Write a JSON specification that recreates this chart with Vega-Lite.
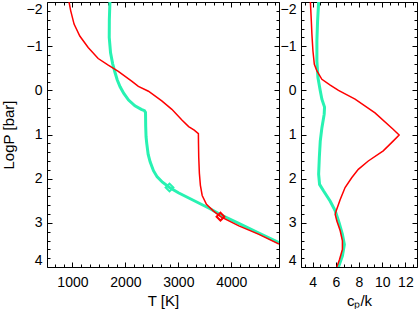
{
  "$schema": "https://vega.github.io/schema/vega-lite/v6.json",
  "padding": {"left": 0, "top": 1, "right": 1, "bottom": 0},
  "background": "white",
  "spacing": 22,
  "bounds": "flush",
  "config": {
    "view": {"stroke": "#000", "strokeWidth": 1},
    "axis": {"labelFont": "Liberation Sans", "titleFont": "Liberation Sans", "labelFontSize": 14, "titleFontSize": 15, "titleFontWeight": "normal", "labelColor": "#000", "titleColor": "#000", "domain": false, "grid": false, "tickColor": "#000", "tickWidth": 1, "minExtent": 0, "offset": 0}
  },
  "datasets": {
    "tp": [
      {"s": "b", "i": 1, "T": 1708, "P": -2.0},
      {"s": "b", "i": 2, "T": 1697, "P": -1.6},
      {"s": "b", "i": 3, "T": 1695, "P": -1.2},
      {"s": "b", "i": 4, "T": 1720, "P": -0.85},
      {"s": "b", "i": 5, "T": 1760, "P": -0.6},
      {"s": "b", "i": 6, "T": 1800, "P": -0.42},
      {"s": "b", "i": 7, "T": 1845, "P": -0.24},
      {"s": "b", "i": 8, "T": 1900, "P": -0.08},
      {"s": "b", "i": 9, "T": 1970, "P": 0.07},
      {"s": "b", "i": 10, "T": 2060, "P": 0.22},
      {"s": "b", "i": 11, "T": 2180, "P": 0.35},
      {"s": "b", "i": 12, "T": 2300, "P": 0.43},
      {"s": "b", "i": 13, "T": 2360, "P": 0.46},
      {"s": "b", "i": 14, "T": 2380, "P": 0.5},
      {"s": "b", "i": 15, "T": 2383, "P": 0.8},
      {"s": "b", "i": 16, "T": 2390, "P": 1.05},
      {"s": "b", "i": 17, "T": 2403, "P": 1.2},
      {"s": "b", "i": 18, "T": 2430, "P": 1.45},
      {"s": "b", "i": 19, "T": 2467, "P": 1.62},
      {"s": "b", "i": 20, "T": 2530, "P": 1.82},
      {"s": "b", "i": 21, "T": 2600, "P": 1.96},
      {"s": "b", "i": 22, "T": 2700, "P": 2.08},
      {"s": "b", "i": 23, "T": 2833, "P": 2.2},
      {"s": "b", "i": 24, "T": 3000, "P": 2.32},
      {"s": "b", "i": 25, "T": 3300, "P": 2.5},
      {"s": "b", "i": 26, "T": 3600, "P": 2.68},
      {"s": "b", "i": 27, "T": 3800, "P": 2.82},
      {"s": "b", "i": 28, "T": 4150, "P": 3.02},
      {"s": "b", "i": 29, "T": 4500, "P": 3.22},
      {"s": "b", "i": 30, "T": 4900, "P": 3.45},
      {"s": "r", "i": 1, "T": 936, "P": -2.0},
      {"s": "r", "i": 2, "T": 968, "P": -1.8},
      {"s": "r", "i": 3, "T": 1031, "P": -1.5},
      {"s": "r", "i": 4, "T": 1139, "P": -1.23},
      {"s": "r", "i": 5, "T": 1297, "P": -0.97},
      {"s": "r", "i": 6, "T": 1486, "P": -0.72},
      {"s": "r", "i": 7, "T": 1676, "P": -0.57},
      {"s": "r", "i": 8, "T": 1866, "P": -0.43},
      {"s": "r", "i": 9, "T": 2118, "P": -0.21},
      {"s": "r", "i": 10, "T": 2245, "P": -0.09},
      {"s": "r", "i": 11, "T": 2435, "P": 0.02},
      {"s": "r", "i": 12, "T": 2687, "P": 0.24},
      {"s": "r", "i": 13, "T": 2877, "P": 0.43},
      {"s": "r", "i": 14, "T": 3067, "P": 0.67},
      {"s": "r", "i": 15, "T": 3194, "P": 0.82},
      {"s": "r", "i": 16, "T": 3300, "P": 0.9},
      {"s": "r", "i": 17, "T": 3378, "P": 0.98},
      {"s": "r", "i": 18, "T": 3380, "P": 1.2},
      {"s": "r", "i": 19, "T": 3385, "P": 1.52},
      {"s": "r", "i": 20, "T": 3397, "P": 1.88},
      {"s": "r", "i": 21, "T": 3416, "P": 2.15},
      {"s": "r", "i": 22, "T": 3450, "P": 2.38},
      {"s": "r", "i": 23, "T": 3530, "P": 2.58},
      {"s": "r", "i": 24, "T": 3660, "P": 2.73},
      {"s": "r", "i": 25, "T": 3795, "P": 2.86},
      {"s": "r", "i": 26, "T": 4142, "P": 3.07},
      {"s": "r", "i": 27, "T": 4522, "P": 3.26},
      {"s": "r", "i": 28, "T": 4900, "P": 3.48}
    ],
    "dia": [
      {"s": "b", "T": 2833, "P": 2.2},
      {"s": "r", "T": 3795, "P": 2.86}
    ],
    "cp": [
      {"s": "b", "i": 1, "c": 4.52, "P": -2.0},
      {"s": "b", "i": 2, "c": 4.43, "P": -1.57},
      {"s": "b", "i": 3, "c": 4.37, "P": -1.12},
      {"s": "b", "i": 4, "c": 4.37, "P": -0.66},
      {"s": "b", "i": 5, "c": 4.46, "P": -0.29},
      {"s": "b", "i": 6, "c": 4.66, "P": 0.01},
      {"s": "b", "i": 7, "c": 4.8, "P": 0.2},
      {"s": "b", "i": 8, "c": 5.03, "P": 0.38},
      {"s": "b", "i": 9, "c": 5.0, "P": 0.54},
      {"s": "b", "i": 10, "c": 4.8, "P": 0.85},
      {"s": "b", "i": 11, "c": 4.66, "P": 1.15},
      {"s": "b", "i": 12, "c": 4.58, "P": 1.52},
      {"s": "b", "i": 13, "c": 4.52, "P": 1.9},
      {"s": "b", "i": 14, "c": 4.6, "P": 2.13},
      {"s": "b", "i": 15, "c": 4.95, "P": 2.28},
      {"s": "b", "i": 16, "c": 5.52, "P": 2.51},
      {"s": "b", "i": 17, "c": 5.95, "P": 2.73},
      {"s": "b", "i": 18, "c": 6.29, "P": 3.0},
      {"s": "b", "i": 19, "c": 6.57, "P": 3.26},
      {"s": "b", "i": 20, "c": 6.74, "P": 3.49},
      {"s": "b", "i": 21, "c": 6.57, "P": 3.75},
      {"s": "b", "i": 22, "c": 6.23, "P": 4.0},
      {"s": "r", "i": 1, "c": 3.81, "P": -2.0},
      {"s": "r", "i": 2, "c": 3.89, "P": -1.57},
      {"s": "r", "i": 3, "c": 3.94, "P": -1.27},
      {"s": "r", "i": 4, "c": 4.03, "P": -0.89},
      {"s": "r", "i": 5, "c": 4.15, "P": -0.59},
      {"s": "r", "i": 6, "c": 4.37, "P": -0.44},
      {"s": "r", "i": 7, "c": 4.8, "P": -0.25},
      {"s": "r", "i": 8, "c": 5.52, "P": -0.12},
      {"s": "r", "i": 9, "c": 6.23, "P": 0.0},
      {"s": "r", "i": 10, "c": 7.66, "P": 0.2},
      {"s": "r", "i": 11, "c": 9.38, "P": 0.51},
      {"s": "r", "i": 12, "c": 10.94, "P": 0.88},
      {"s": "r", "i": 13, "c": 11.46, "P": 1.01},
      {"s": "r", "i": 14, "c": 10.94, "P": 1.15},
      {"s": "r", "i": 15, "c": 10.09, "P": 1.37},
      {"s": "r", "i": 16, "c": 8.8, "P": 1.6},
      {"s": "r", "i": 17, "c": 7.94, "P": 1.79},
      {"s": "r", "i": 18, "c": 7.37, "P": 1.98},
      {"s": "r", "i": 19, "c": 6.8, "P": 2.2},
      {"s": "r", "i": 20, "c": 6.38, "P": 2.47},
      {"s": "r", "i": 21, "c": 6.03, "P": 2.73},
      {"s": "r", "i": 22, "c": 5.95, "P": 2.81},
      {"s": "r", "i": 23, "c": 6.09, "P": 2.96},
      {"s": "r", "i": 24, "c": 6.38, "P": 3.18},
      {"s": "r", "i": 25, "c": 6.57, "P": 3.41},
      {"s": "r", "i": 26, "c": 6.57, "P": 3.6},
      {"s": "r", "i": 27, "c": 6.32, "P": 3.83},
      {"s": "r", "i": 28, "c": 6.09, "P": 4.0}
    ]
  },
  "hconcat": [
    {
      "width": 232,
      "height": 265,
      "resolve": {"axis": {"x": "independent", "y": "independent"}},
      "layer": [
        {
          "data": {"name": "tp"},
          "transform": [{"filter": "datum.s === 'b'"}],
          "mark": {"type": "line", "color": "#28f2b2", "strokeWidth": 3, "clip": true},
          "encoding": {
            "x": {"field": "T", "type": "quantitative", "scale": {"domain": [520, 4900], "nice": false, "zero": false},
                  "axis": {"orient": "bottom", "values": [1000, 2000, 3000, 4000], "format": "d", "ticks": false, "labelPadding": 8, "title": "T [K]", "titlePadding": 4}},
            "y": {"field": "P", "type": "quantitative", "scale": {"domain": [-2, 4], "reverse": true, "nice": false, "zero": false},
                  "axis": {"orient": "left", "values": [-2, -1, 0, 1, 2, 3, 4], "format": "d", "ticks": false, "labelPadding": 5, "labelFlush": true, "title": "LogP [bar]", "titlePadding": 10}},
            "order": {"field": "i", "type": "quantitative"}
          }
        },
        {
          "data": {"name": "tp"},
          "transform": [{"filter": "datum.s === 'r'"}],
          "mark": {"type": "line", "color": "#ff0000", "strokeWidth": 1.5, "clip": true},
          "encoding": {
            "x": {"field": "T", "type": "quantitative", "scale": {"domain": [520, 4900], "nice": false, "zero": false},
                  "axis": {"orient": "bottom", "values": [1000, 2000, 3000, 4000], "labels": false, "tickSize": -5, "title": null}},
            "y": {"field": "P", "type": "quantitative", "scale": {"domain": [-2, 4], "reverse": true, "nice": false, "zero": false},
                  "axis": {"orient": "left", "values": [-2, -1, 0, 1, 2, 3, 4], "labels": false, "tickSize": -5, "title": null}},
            "order": {"field": "i", "type": "quantitative"}
          }
        },
        {
          "data": {"name": "dia"},
          "mark": {"type": "point", "shape": "diamond", "filled": false, "strokeWidth": 2, "size": 60, "opacity": 1, "clip": true},
          "encoding": {
            "x": {"field": "T", "type": "quantitative", "scale": {"domain": [520, 4900], "nice": false, "zero": false},
                  "axis": {"orient": "bottom", "values": [666.67, 833.33, 1166.67, 1333.33, 1500, 1666.67, 1833.33, 2166.67, 2333.33, 2500, 2666.67, 2833.33, 3166.67, 3333.33, 3500, 3666.67, 3833.33, 4166.67, 4333.33, 4500, 4666.67, 4833.33], "labels": false, "tickSize": -3, "title": null}},
            "y": {"field": "P", "type": "quantitative", "scale": {"domain": [-2, 4], "reverse": true, "nice": false, "zero": false},
                  "axis": {"orient": "left", "values": [-1.8, -1.6, -1.4, -1.2, -0.8, -0.6, -0.4, -0.2, 0.2, 0.4, 0.6, 0.8, 1.2, 1.4, 1.6, 1.8, 2.2, 2.4, 2.6, 2.8, 3.2, 3.4, 3.6, 3.8], "labels": false, "tickSize": -3, "title": null}},
            "color": {"field": "s", "type": "nominal", "scale": {"domain": ["b", "r"], "range": ["#28f2b2", "#ff0000"]}, "legend": null}
          }
        },
        {
          "data": {"name": "dia"},
          "mark": {"type": "point", "opacity": 0, "clip": true},
          "encoding": {
            "x": {"field": "T", "type": "quantitative", "scale": {"domain": [520, 4900], "nice": false, "zero": false},
                  "axis": {"orient": "top", "values": [1000, 2000, 3000, 4000], "labels": false, "tickSize": -5, "title": null}},
            "y": {"field": "P", "type": "quantitative", "scale": {"domain": [-2, 4], "reverse": true, "nice": false, "zero": false},
                  "axis": {"orient": "right", "values": [-2, -1, 0, 1, 2, 3, 4], "labels": false, "tickSize": -5, "title": null}}
          }
        },
        {
          "data": {"name": "dia"},
          "mark": {"type": "point", "opacity": 0, "clip": true},
          "encoding": {
            "x": {"field": "T", "type": "quantitative", "scale": {"domain": [520, 4900], "nice": false, "zero": false},
                  "axis": {"orient": "top", "values": [666.67, 833.33, 1166.67, 1333.33, 1500, 1666.67, 1833.33, 2166.67, 2333.33, 2500, 2666.67, 2833.33, 3166.67, 3333.33, 3500, 3666.67, 3833.33, 4166.67, 4333.33, 4500, 4666.67, 4833.33], "labels": false, "tickSize": -3, "title": null}},
            "y": {"field": "P", "type": "quantitative", "scale": {"domain": [-2, 4], "reverse": true, "nice": false, "zero": false},
                  "axis": {"orient": "right", "values": [-1.8, -1.6, -1.4, -1.2, -0.8, -0.6, -0.4, -0.2, 0.2, 0.4, 0.6, 0.8, 1.2, 1.4, 1.6, 1.8, 2.2, 2.4, 2.6, 2.8, 3.2, 3.4, 3.6, 3.8], "labels": false, "tickSize": -3, "title": null}}
          }
        }
      ]
    },
    {
      "width": 116,
      "height": 265,
      "resolve": {"axis": {"x": "independent", "y": "independent"}},
      "layer": [
        {
          "data": {"name": "cp"},
          "transform": [{"filter": "datum.s === 'b'"}],
          "mark": {"type": "line", "color": "#28f2b2", "strokeWidth": 3, "clip": true},
          "encoding": {
            "x": {"field": "c", "type": "quantitative", "scale": {"domain": [3, 13], "nice": false, "zero": false},
                  "axis": {"orient": "bottom", "values": [4, 6, 8, 10, 12], "format": "d", "ticks": false, "labelPadding": 8, "title": "cₚ/k", "titlePadding": 4}},
            "y": {"field": "P", "type": "quantitative", "scale": {"domain": [-2, 4], "reverse": true, "nice": false, "zero": false},
                  "axis": {"orient": "left", "values": [-2, -1, 0, 1, 2, 3, 4], "format": "d", "ticks": false, "labelPadding": 5, "labelFlush": true, "title": null}},
            "order": {"field": "i", "type": "quantitative"}
          }
        },
        {
          "data": {"name": "cp"},
          "transform": [{"filter": "datum.s === 'r'"}],
          "mark": {"type": "line", "color": "#ff0000", "strokeWidth": 1.5, "clip": true},
          "encoding": {
            "x": {"field": "c", "type": "quantitative", "scale": {"domain": [3, 13], "nice": false, "zero": false},
                  "axis": {"orient": "bottom", "values": [4, 6, 8, 10, 12], "labels": false, "tickSize": -5, "title": null}},
            "y": {"field": "P", "type": "quantitative", "scale": {"domain": [-2, 4], "reverse": true, "nice": false, "zero": false},
                  "axis": {"orient": "left", "values": [-2, -1, 0, 1, 2, 3, 4], "labels": false, "tickSize": -5, "title": null}},
            "order": {"field": "i", "type": "quantitative"}
          }
        },
        {
          "data": {"name": "dia"},
          "mark": {"type": "point", "opacity": 0, "clip": true},
          "encoding": {
            "x": {"value": 50},
            "y": {"field": "P", "type": "quantitative", "scale": {"domain": [-2, 4], "reverse": true, "nice": false, "zero": false},
                  "axis": {"orient": "left", "values": [-1.8, -1.6, -1.4, -1.2, -0.8, -0.6, -0.4, -0.2, 0.2, 0.4, 0.6, 0.8, 1.2, 1.4, 1.6, 1.8, 2.2, 2.4, 2.6, 2.8, 3.2, 3.4, 3.6, 3.8], "labels": false, "tickSize": -3, "title": null}}
          }
        },
        {
          "data": {"name": "cp"},
          "transform": [{"filter": "datum.i === 10"}],
          "mark": {"type": "point", "opacity": 0, "clip": true},
          "encoding": {
            "x": {"field": "c", "type": "quantitative", "scale": {"domain": [3, 13], "nice": false, "zero": false},
                  "axis": {"orient": "bottom", "values": [3.333, 4.667, 5.333, 6.667, 7.333, 8.667, 9.333, 10.667, 11.333, 12.667], "labels": false, "tickSize": -3, "title": null}},
            "y": {"field": "P", "type": "quantitative", "scale": {"domain": [-2, 4], "reverse": true, "nice": false, "zero": false},
                  "axis": {"orient": "right", "values": [-2, -1, 0, 1, 2, 3, 4], "labels": false, "tickSize": -5, "title": null}}
          }
        },
        {
          "data": {"name": "cp"},
          "transform": [{"filter": "datum.i === 10"}],
          "mark": {"type": "point", "opacity": 0, "clip": true},
          "encoding": {
            "x": {"field": "c", "type": "quantitative", "scale": {"domain": [3, 13], "nice": false, "zero": false},
                  "axis": {"orient": "top", "values": [4, 6, 8, 10, 12], "labels": false, "tickSize": -5, "title": null}},
            "y": {"field": "P", "type": "quantitative", "scale": {"domain": [-2, 4], "reverse": true, "nice": false, "zero": false},
                  "axis": {"orient": "right", "values": [-1.8, -1.6, -1.4, -1.2, -0.8, -0.6, -0.4, -0.2, 0.2, 0.4, 0.6, 0.8, 1.2, 1.4, 1.6, 1.8, 2.2, 2.4, 2.6, 2.8, 3.2, 3.4, 3.6, 3.8], "labels": false, "tickSize": -3, "title": null}}
          }
        },
        {
          "data": {"name": "cp"},
          "transform": [{"filter": "datum.i === 10"}],
          "mark": {"type": "point", "opacity": 0, "clip": true},
          "encoding": {
            "x": {"field": "c", "type": "quantitative", "scale": {"domain": [3, 13], "nice": false, "zero": false},
                  "axis": {"orient": "top", "values": [3.333, 4.667, 5.333, 6.667, 7.333, 8.667, 9.333, 10.667, 11.333, 12.667], "labels": false, "tickSize": -3, "title": null}},
            "y": {"field": "P", "type": "quantitative", "scale": {"domain": [-2, 4], "reverse": true, "nice": false, "zero": false}, "axis": null}
          }
        }
      ]
    }
  ]
}
